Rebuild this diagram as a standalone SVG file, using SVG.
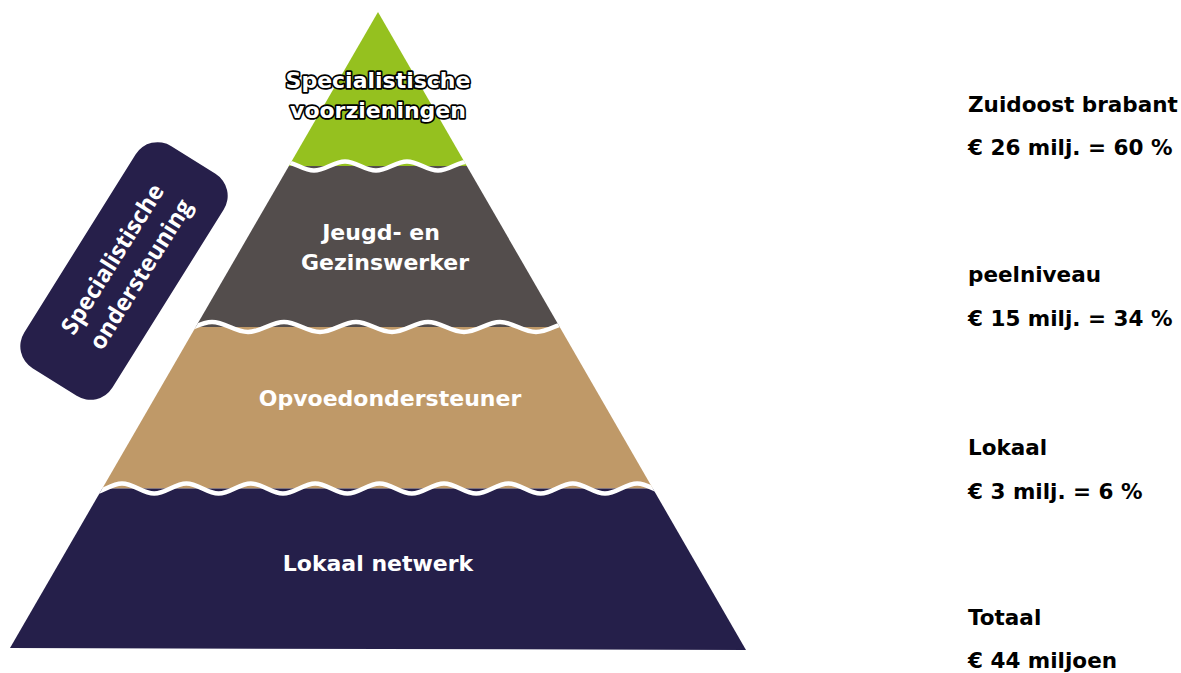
<svg xmlns="http://www.w3.org/2000/svg" width="1181" height="673" viewBox="0 0 1181 673">
<style>
.lbl{font-family:"DejaVu Sans","Liberation Sans",sans-serif;font-weight:bold;font-size:22px;fill:#ffffff;text-anchor:middle}
.out{fill:#ffffff;stroke:#000000;stroke-width:3.4px;stroke-linejoin:round;paint-order:stroke}
.side{font-family:"DejaVu Sans","Liberation Sans",sans-serif;font-weight:bold;font-size:21.5px;fill:#000000}
.rot{font-family:"Open Sans","Liberation Sans",sans-serif;font-weight:700;font-size:23.5px;fill:#ffffff;text-anchor:middle}
.wave{fill:none;stroke:#ffffff;stroke-width:4.5;stroke-linecap:round}
</style>
<defs>
<clipPath id="pyr"><polygon points="378,12 746,650 10,648"/></clipPath>
</defs>
<rect width="1181" height="673" fill="#ffffff"/>
<g id="layer-top">
<polygon points="378,12 466.8,166 288.9,166" fill="#95C11F"/>
<text class="lbl out" x="378" y="88">Specialistische</text>
<text class="lbl out" x="378" y="118">voorzieningen</text>
</g>
<g id="layer-jgw">
<polygon points="288.9,166 466.8,166 559.7,327 195.7,327" fill="#534D4C"/>
<text class="lbl" x="381" y="240" font-size="21.5">Jeugd- en</text>
<text class="lbl" x="385" y="270" font-size="21.5">Gezinswerker</text>
</g>
<g id="layer-opv">
<polygon points="195.7,327 559.7,327 652.8,488.5 102.3,488.5" fill="#BF9968"/>
<text class="lbl" x="390" y="406">Opvoedondersteuner</text>
</g>
<g id="layer-lok">
<polygon points="102.3,488.5 652.8,488.5 746,650 10,648" fill="#251F4A"/>
<text class="lbl" x="378" y="571" font-size="22.5">Lokaal netwerk</text>
</g>
<g id="connectors" clip-path="url(#pyr)">
<path class="wave" d="M283,161.5 c11.29,0 19.71,9 31,9 c11.29,0 19.71,-9 31,-9 c11.29,0 19.71,9 31,9 c11.29,0 19.71,-9 31,-9 c11.29,0 19.71,9 31,9 c11.29,0 19.71,-9 31,-9 c11.29,0 19.71,9 31,9"/>
<path class="wave" d="M140,322 c13.11,0 22.89,10 36,10 c13.11,0 22.89,-10 36,-10 c13.11,0 22.89,10 36,10 c13.11,0 22.89,-10 36,-10 c13.11,0 22.89,10 36,10 c13.11,0 22.89,-10 36,-10 c13.11,0 22.89,10 36,10 c13.11,0 22.89,-10 36,-10 c13.11,0 22.89,10 36,10 c13.11,0 22.89,-10 36,-10 c13.11,0 22.89,10 36,10 c13.11,0 22.89,-10 36,-10 c13.11,0 22.89,10 36,10"/>
<path class="wave" d="M57.6,483.5 c11.73,0 20.47,10 32.2,10 c11.73,0 20.47,-10 32.2,-10 c11.73,0 20.47,10 32.2,10 c11.73,0 20.47,-10 32.2,-10 c11.73,0 20.47,10 32.2,10 c11.73,0 20.47,-10 32.2,-10 c11.73,0 20.47,10 32.2,10 c11.73,0 20.47,-10 32.2,-10 c11.73,0 20.47,10 32.2,10 c11.73,0 20.47,-10 32.2,-10 c11.73,0 20.47,10 32.2,10 c11.73,0 20.47,-10 32.2,-10 c11.73,0 20.47,10 32.2,10 c11.73,0 20.47,-10 32.2,-10 c11.73,0 20.47,10 32.2,10 c11.73,0 20.47,-10 32.2,-10 c11.73,0 20.47,10 32.2,10 c11.73,0 20.47,-10 32.2,-10 c11.73,0 20.47,10 32.2,10 c11.73,0 20.47,-10 32.2,-10"/>
</g>
<g id="specialistische-ondersteuning" transform="translate(124,271) rotate(-58)">
<rect x="-131" y="-52" width="262" height="104" rx="26" ry="26" fill="#261F4A"/>
<text class="rot" x="4" y="-8">Specialistische</text>
<text class="rot" x="6" y="24">ondersteuning</text>
</g>
<g id="side-labels">
<text class="side" x="968" y="112">Zuidoost brabant</text>
<text class="side" x="968" y="155">€ 26 milj. = 60 %</text>
<text class="side" x="968" y="282">peelniveau</text>
<text class="side" x="968" y="326">€ 15 milj. = 34 %</text>
<text class="side" x="968" y="455">Lokaal</text>
<text class="side" x="968" y="499">€ 3 milj. = 6 %</text>
<text class="side" x="968" y="625">Totaal</text>
<text class="side" x="968" y="668">€ 44 miljoen</text>
</g>
</svg>
